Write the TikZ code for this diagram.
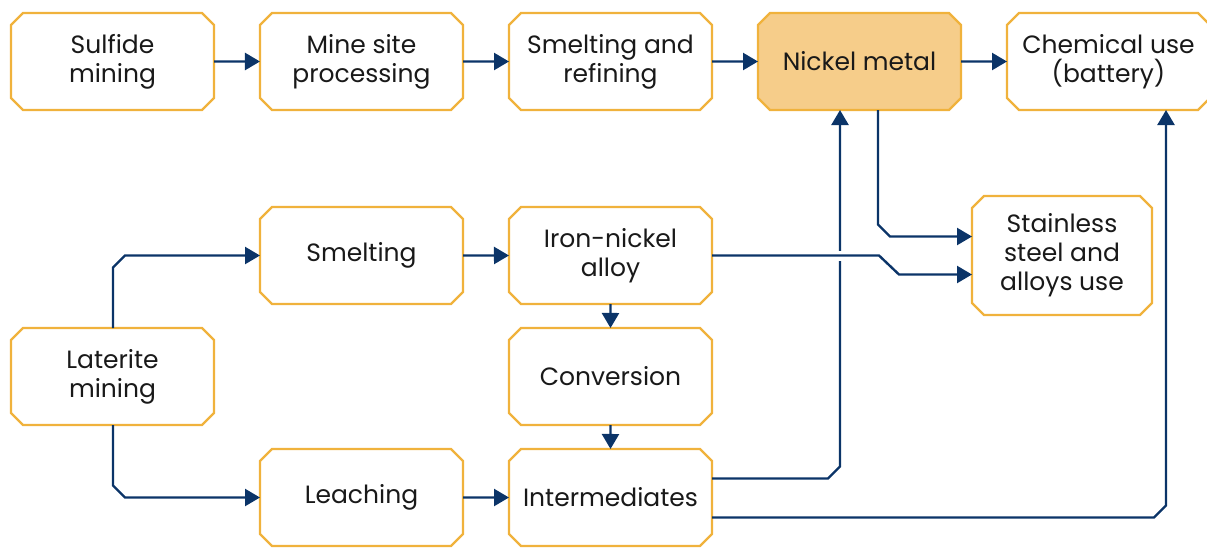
\documentclass[tikz,border=0pt]{standalone}
\usepackage{fontspec}
\setmainfont{Poppins}
\usetikzlibrary{positioning, calc, shapes.misc, arrows.meta}
\definecolor{boxline}{HTML}{F0B23C}
\definecolor{boxfill}{HTML}{F6CD8A}
\definecolor{flowline}{HTML}{0B3468}
\tikzset{
  stage/.style={chamfered rectangle, chamfered rectangle xsep=6pt,
    chamfered rectangle ysep=6pt, draw=boxline, line width=2.4pt,
    fill=white, minimum width=203pt, minimum height=97pt, inner sep=0pt,
    outer sep=0pt, align=center, text=black!90,
    font=\fontsize{25}{29}\selectfont},
  product/.style={stage, fill=boxfill},
  flow/.style={draw=flowline, line width=2.4pt,
    -{Triangle[length=15pt,width=17pt]}},
}

\begin{document}
\begin{tikzpicture}[x=1pt, y=1pt, node distance=46pt]
    \useasboundingbox (0,0) rectangle (1207,-547);
    \node[stage] (sulfide) at (112.5,-61.5) {Sulfide\\mining};
    \node[stage, right=of sulfide] (minesite) {Mine site\\processing};
    \node[stage, right=of minesite] (refining) {Smelting and\\refining};
    \node[product, right=of refining] (nickel) {Nickel metal};
    \node[stage, right=of nickel] (chemical) {Chemical use\\(battery)};
    \node[stage, below=97pt of minesite] (smelting) {Smelting};
    \node[stage, right=of smelting] (ironnickel) {Iron-nickel\\alloy};
    \node[stage, below=24pt of ironnickel] (conversion) {Conversion};
    \node[stage, below=24pt of conversion] (intermediates) {Intermediates};
    \node[stage, left=of intermediates] (leaching) {Leaching};
    \node[stage] (laterite) at (sulfide |- conversion) {Laterite\\mining};
    \node[stage, right=260pt of ironnickel, minimum width=180pt,
      minimum height=119pt] (stainless) {Stainless\\steel and\\alloys use};

    \draw[flow] (sulfide) -- (minesite);
    \draw[flow] (minesite) -- (refining);
    \draw[flow] (refining) -- (nickel);
    \draw[flow] (nickel) -- (chemical);
    \draw[flow] (smelting) -- (ironnickel);
    \draw[flow] (leaching) -- (intermediates);
    \draw[flow] (ironnickel) -- (conversion);
    \draw[flow] (conversion) -- (intermediates);

    \coordinate (latup) at ([xshift=0.5pt]laterite.north);
    \coordinate (latdown) at ([xshift=0.5pt]laterite.south);
    \draw[flow] (latup) -- ($(latup |- smelting.west)+(0,-12)$)
      -- ($(latup |- smelting.west)+(12,0)$) -- (smelting.west);
    \draw[flow] (latdown) -- ($(latdown |- leaching.west)+(0,12)$)
      -- ($(latdown |- leaching.west)+(12,0)$) -- (leaching.west);

    \coordinate (nickelin) at ([xshift=-19.5pt]nickel.south);
    \coordinate (nickelout) at ([xshift=18.5pt]nickel.south);
    \coordinate (interup) at ([yshift=19pt]intermediates.east);
    \coordinate (interdown) at ([yshift=-20pt]intermediates.east);
    \coordinate (chemin) at ([xshift=57.5pt]chemical.south);
    \coordinate (stainup) at ([yshift=19pt]stainless.west);
    \coordinate (staindown) at ([yshift=-19pt]stainless.west);

    \draw[flow] (interup) -- ($(nickelin |- interup)+(-12,0)$)
      -- ($(nickelin |- interup)+(0,12)$) -- (nickelin);
    \draw[flow] (interdown) -- ($(chemin |- interdown)+(-12,0)$)
      -- ($(chemin |- interdown)+(0,12)$) -- (chemin);
    \draw[flow] (nickelout) -- ($(nickelout |- stainup)+(0,12)$)
      -- ($(nickelout |- stainup)+(12,0)$) -- (stainup);
    \draw[white, line width=10pt] ($(nickelin |- ironnickel.east)+(-6,0)$)
      -- ($(nickelin |- ironnickel.east)+(6,0)$);
    \draw[flow] (ironnickel.east) -- ($(staindown)+(-93,19)$)
      -- ($(staindown)+(-73,0)$) -- (staindown);
\end{tikzpicture}
\end{document}
